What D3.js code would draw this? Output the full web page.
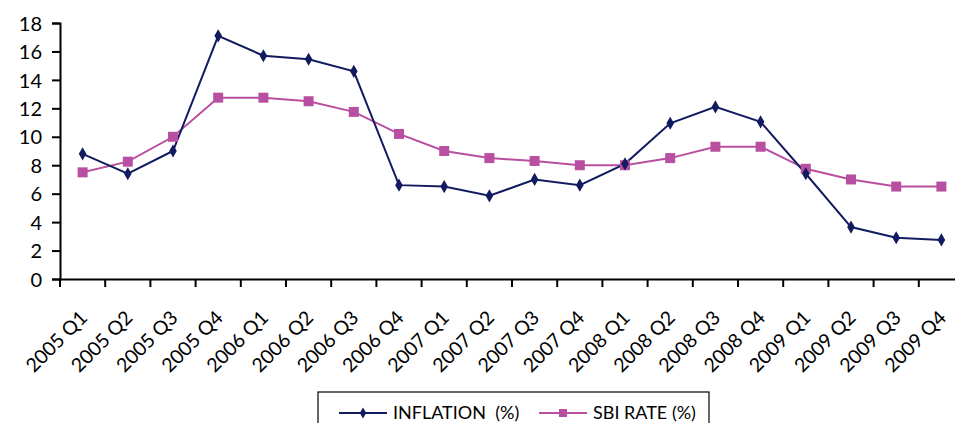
<!DOCTYPE html>
<html><head><meta charset="utf-8">
<script src="https://cdn.jsdelivr.net/npm/d3@7"></script>
<style>body{margin:0;background:#fff}svg{display:block}</style>
</head><body>
<svg id="c" width="955" height="423"></svg>
<script>
const categories = ["2005 Q1","2005 Q2","2005 Q3","2005 Q4","2006 Q1","2006 Q2","2006 Q3","2006 Q4","2007 Q1","2007 Q2","2007 Q3","2007 Q4","2008 Q1","2008 Q2","2008 Q3","2008 Q4","2009 Q1","2009 Q2","2009 Q3","2009 Q4"];
const inflation = [8.8,7.4,9.0,17.1,15.7,15.45,14.6,6.6,6.5,5.85,7.0,6.6,8.1,10.95,12.1,11.05,7.4,3.65,2.9,2.75];
const sbiRate = [7.5,8.25,10.0,12.75,12.75,12.5,11.75,10.2,9.0,8.5,8.3,8.0,8.0,8.5,9.3,9.3,7.75,7.0,6.5,6.5];
const yTicks = [0,2,4,6,8,10,12,14,16,18];
const seriesNames = ["INFLATION  (%)", "SBI RATE (%)"];

(function(){
const svg = d3.select("#c");
const font = "Lato, 'Open Sans', sans-serif";
const mLeft = 60, mTop = 23, mBottom = 279, mRight = 964;
const x = d3.scaleBand().domain(categories).range([mLeft, mRight]);
const y = d3.scaleLinear().domain([0, 18]).range([mBottom, mTop]);
const navy = "#121B60", pink = "#B94FA0";

const ya = svg.append("g").attr("transform", `translate(${mLeft},0)`)
  .call(d3.axisLeft(y).tickValues(yTicks).tickSize(8).tickPadding(10));
ya.select(".domain").attr("stroke", "#000").attr("stroke-width", 2);
ya.selectAll(".tick line").attr("stroke", "#000").attr("stroke-width", 2);
ya.selectAll("text").attr("font-family", font).attr("font-size", 20).attr("fill", "#000").attr("dy", "0.36em");

const xa = svg.append("g").attr("transform", `translate(0,${mBottom})`)
  .call(d3.axisBottom(x).tickSize(0).tickFormat(""));
xa.select(".domain").attr("stroke", "#000").attr("stroke-width", 2);
svg.append("g").selectAll("line").data(categories.concat(["end"])).join("line")
  .attr("x1", (d,i) => mLeft + i * x.step()).attr("x2", (d,i) => mLeft + i * x.step())
  .attr("y1", mBottom).attr("y2", mBottom + 8).attr("stroke", "#000").attr("stroke-width", 2);
svg.append("g").selectAll("text").data(categories).join("text")
  .attr("transform", d => `translate(${x(d) + x.bandwidth()/2 + 6},${mBottom + 40}) rotate(-45)`)
  .attr("text-anchor", "end")
  .attr("font-family", font).attr("font-size", 19.5).attr("fill", "#000").text(d => d);

const cx = d => x(d) + x.bandwidth()/2;
const line = vals => d3.line().x((d,i) => cx(categories[i])).y(d => y(d))(vals);

svg.append("path").attr("d", line(sbiRate)).attr("fill", "none").attr("stroke", pink).attr("stroke-width", 2);
svg.append("path").attr("d", line(inflation)).attr("fill", "none").attr("stroke", navy).attr("stroke-width", 2);

svg.append("g").selectAll("rect").data(sbiRate).join("rect")
  .attr("x", (d,i) => cx(categories[i]) - 5).attr("y", d => y(d) - 5)
  .attr("width", 10).attr("height", 10).attr("fill", pink);
svg.append("g").selectAll("path").data(inflation).join("path")
  .attr("d", d3.symbol(d3.symbolDiamond, 50))
  .attr("transform", (d,i) => `translate(${cx(categories[i])},${y(d)})`).attr("fill", navy);

const lg = svg.append("g");
lg.append("rect").attr("x", 318).attr("y", 392).attr("width", 391).attr("height", 40)
  .attr("fill", "#fff").attr("stroke", "#000").attr("stroke-width", 1.2);
const items = [{name: seriesNames[0], color: navy, x1: 339, tx: 393, sym: "d"},
               {name: seriesNames[1], color: pink, x1: 539, tx: 593, sym: "s"}];
items.forEach(it => {
  lg.append("line").attr("x1", it.x1).attr("x2", it.x1 + 48).attr("y1", 413).attr("y2", 413)
    .attr("stroke", it.color).attr("stroke-width", 2);
  if (it.sym === "d") {
    lg.append("path").attr("d", d3.symbol(d3.symbolDiamond, 36)).attr("transform", `translate(${it.x1+24},413)`).attr("fill", it.color);
  } else {
    lg.append("rect").attr("x", it.x1 + 20).attr("y", 409).attr("width", 8).attr("height", 8).attr("fill", it.color);
  }
  lg.append("text").attr("x", it.tx).attr("y", 413).attr("dy", "0.36em")
    .attr("font-family", font).attr("font-size", 18).attr("fill", "#000")
    .style("white-space", "pre").text(it.name);
});
})();
</script>
</body></html>
